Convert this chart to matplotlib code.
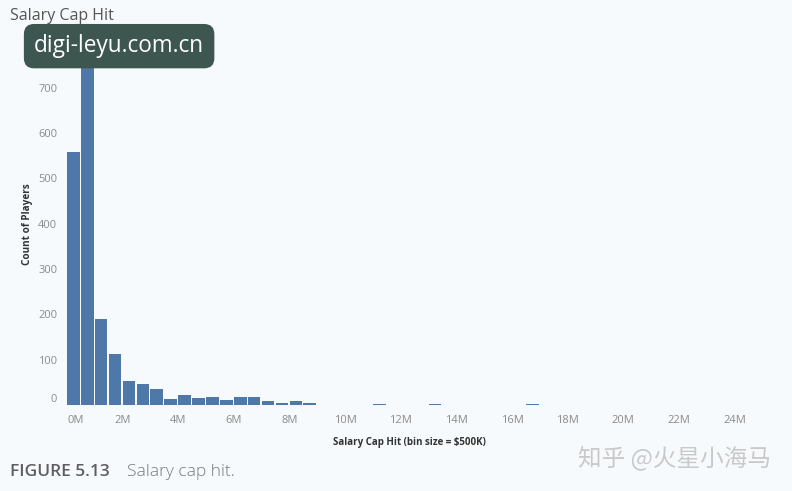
import matplotlib
matplotlib.use("Agg")
from matplotlib import pyplot as plt
import numpy as np

# salary cap hit histogram, bins of $0.5M (values in millions)
bin_size = 0.5
counts = [558, 773, 190, 112, 52, 46, 36, 14, 23, 15, 17, 11, 18, 18, 9, 4,
          9, 4, 1, 1, 0, 0, 2, 0, 0, 1, 2, 0, 1, 1, 0, 1, 1, 2,
          0, 0, 0, 0, 0, 0, 0, 0, 0, 0, 0, 0, 0, 1]
bin_starts = [i * bin_size for i in range(len(counts))]

x_ticks = [0, 2, 4, 6, 8, 10, 12, 14, 16, 18, 20, 22, 24]
x_tick_labels = [f"{t}M" for t in x_ticks]
y_ticks = [0, 100, 200, 300, 400, 500, 600, 700]

bg = "#f7fafc"
bar_color = "#4e78a8"

plt.rcParams["font.family"] = ["Open Sans", "DejaVu Sans"]

fig = plt.figure(figsize=(7.92, 4.91), dpi=100, facecolor=bg)
ax = fig.add_axes([0.0846, 0.175, 0.864, 0.739], facecolor=bg)

# small gap between bars instead of an edge, so tiny bins stay visible
ax.bar(bin_starts, counts, width=bin_size - 0.045, align="edge",
       color=bar_color, linewidth=0)

ax.set_xlim(0, 24.6)
ax.set_ylim(0, 800)
for s in ax.spines.values():
    s.set_visible(False)

ax.set_xticks(x_ticks)
ax.set_xticklabels(x_tick_labels)
ax.set_yticks(y_ticks)
ax.tick_params(length=0, labelsize=8, labelcolor="#8a8a8a", pad=7)
ax.get_xticklabels()[0].set_horizontalalignment("left")
ax.get_yticklabels()[0].set_verticalalignment("bottom")

ax.set_xlabel("Salary Cap Hit (bin size = $500K)", fontsize=7, fontweight="bold",
              color="#333333", labelpad=8)
ax.set_ylabel("Count of Players", fontsize=7.2, fontweight="bold",
              color="#333333", labelpad=4)

fig.text(0.013, 0.968, "Salary Cap Hit", fontsize=11.5, color="#555555",
         va="center", ha="left")

# watermark box
fig.text(0.043, 0.906, "digi-leyu.com.cn", fontsize=16.3, color="white",
         va="center", ha="left", zorder=10,
         bbox=dict(boxstyle="round,pad=0.45,rounding_size=0.45",
                   facecolor="#3e5650", edgecolor="none"))

fig.text(0.013, 0.038, "FIGURE 5.13", fontsize=12.5, color="#5e5e5e",
         va="center", ha="left", fontweight="semibold")
fig.text(0.16, 0.038, "Salary cap hit.", fontsize=12.5, color="#777777",
         va="center", ha="left", fontweight="light")

fig.text(0.974, 0.067, "知乎 @火星小海马", fontsize=17, color="#c9c9c9",
         va="center", ha="right", family=["Noto Sans CJK SC", "DejaVu Sans"])

fig.savefig("out.png", dpi=100, facecolor=bg)
